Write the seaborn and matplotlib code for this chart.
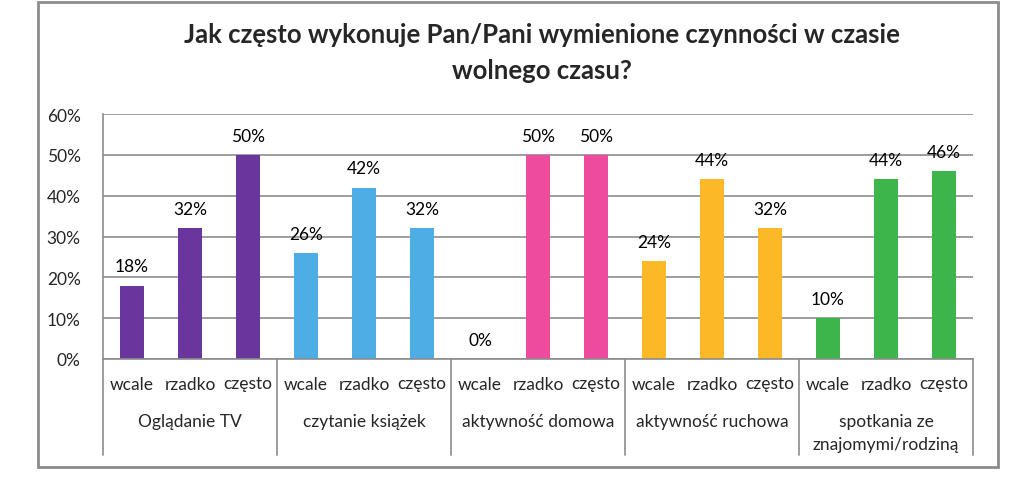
import pandas as pd
import seaborn as sns
import matplotlib.pyplot as plt
from matplotlib.patches import Rectangle

groups = ['Oglądanie TV', 'czytanie książek', 'aktywność domowa',
          'aktywność ruchowa', 'spotkania ze\nznajomymi/rodziną']
freqs = ['wcale', 'rzadko', 'często']
tv = [18, 32, 50]
books = [26, 42, 32]
home = [0, 50, 50]
sport = [24, 44, 32]
meet = [10, 44, 46]
colors = ['#6A359C', '#4FADE6', '#EE4A9E', '#FDB827', '#3DB54A']

rows = []
for g, vals in zip(groups, [tv, books, home, sport, meet]):
    for f, v in zip(freqs, vals):
        rows.append({'group': g, 'freq': f, 'value': v / 100})
df = pd.DataFrame(rows)
df['pos'] = range(len(df))

sns.set_theme(style='white')
plt.rcParams['font.family'] = ['Lato', 'DejaVu Sans']
grid_c = '#8C8C8C'

fig = plt.figure(figsize=(10.24, 4.85), dpi=100)
ax = fig.add_axes([103 / 1024, 1 - 360 / 485, 870 / 1024, 245 / 485])

sns.barplot(data=df, x='pos', y='value', hue='group', palette=colors,
            dodge=False, native_scale=True, width=0.4, legend=False,
            saturation=1, linewidth=0, ax=ax)

for c in ax.containers:
    ax.bar_label(c, labels=[f'{v * 100:.0f}%' for v in c.datavalues],
                 padding=8, fontsize=12.5, color='black')

ax.set_xlim(-0.5, len(df) - 0.5)
ax.set_ylim(0, 0.6)
ax.set_yticks([i / 10 for i in range(7)])
ax.set_yticklabels([f'{i * 10}%' for i in range(7)], fontsize=12.5)
ax.tick_params(axis='y', length=0, pad=16)
ax.set_xticks([])
ax.set_xlabel('')
ax.set_ylabel('')
ax.yaxis.grid(True, color=grid_c, linewidth=1.2)
ax.set_axisbelow(True)
for s in ['top', 'right']:
    ax.spines[s].set_visible(False)
for s in ['left', 'bottom']:
    ax.spines[s].set_color(grid_c)
    ax.spines[s].set_linewidth(1.2)

tr = ax.get_xaxis_transform()
for i, f in enumerate(df['freq']):
    ax.text(i, -0.1, f, transform=tr, ha='center', va='center', fontsize=12.5)
for k, g in enumerate(groups):
    ax.text(3 * k + 1, -0.255 if '\n' not in g else -0.3, g, transform=tr,
            ha='center', va='center', fontsize=12.5, linespacing=1.5)
for k in range(len(groups) + 1):
    ax.plot([3 * k - 0.5] * 2, [0, -0.39], transform=tr, color=grid_c,
            linewidth=1.2, clip_on=False)

fig.text(542 / 1024, 1 - 53 / 485,
         'Jak często wykonuje Pan/Pani wymienione czynności w czasie\nwolnego czasu?',
         ha='center', va='center', fontsize=18.5, fontweight='bold', linespacing=1.6)

fig.patches.append(Rectangle((38 / 1024, 1 - 468 / 485), 960 / 1024, 465 / 485,
                             transform=fig.transFigure, fill=False,
                             edgecolor='#8C8C8C', linewidth=2))

fig.savefig('out.png', dpi=100)
